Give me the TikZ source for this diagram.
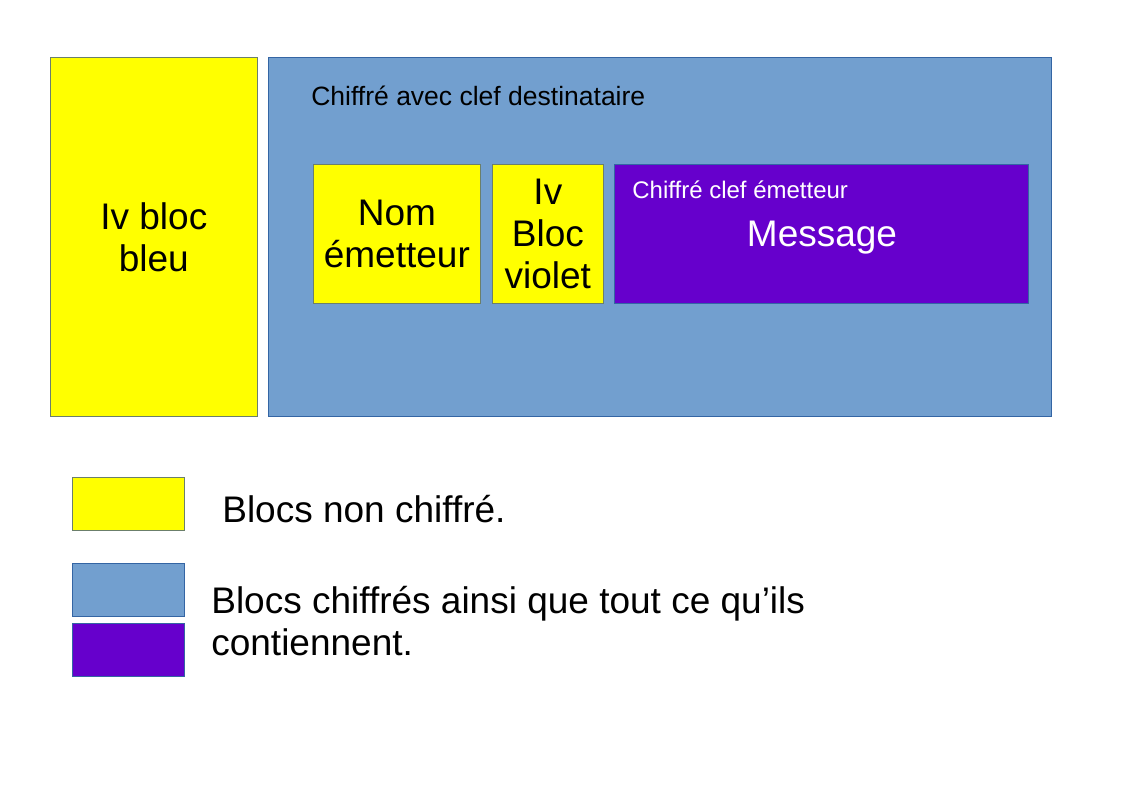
\documentclass[tikz,border=0pt]{standalone}
\usepackage{fontspec}
\setmainfont{Liberation Sans}
\usetikzlibrary{positioning}
\definecolor{cjaune}{HTML}{FFFF00}
\definecolor{cbleu}{HTML}{729FCF}
\definecolor{cviolet}{HTML}{6600CC}
\definecolor{ctrait}{HTML}{3465A4}
\definecolor{cgris}{HTML}{6B7F6B}
\tikzset{
  every picture/.style={x=1pt, y=-1pt, line width=0.7pt},
  bloc/.style={draw=ctrait, fill=#1, anchor=north west, inner sep=0pt, align=center},
  bloc/.default=cjaune,
  grand/.style={font=\fontsize{37}{42}\selectfont, inner sep=0pt},
  moyen/.style={font=\fontsize{26.5}{30}\selectfont, inner sep=0pt},
  petit/.style={font=\fontsize{24}{28}\selectfont, inner sep=0pt},
}

\begin{document}
\begin{tikzpicture}[legende/.style={bloc=#1, minimum width=112, minimum height=53},
  texte/.style={grand, align=left, anchor=base west}]
  \useasboundingbox (0,0) rectangle (1123,794);
  \node[bloc, draw=cgris, grand, minimum width=207, minimum height=359] (ivbleu) at (50,57) {Iv bloc\\bleu};
  \node[bloc=cbleu, minimum width=783, minimum height=359] (dest) at (268,57) {};
  \node[moyen, anchor=base west] (titre) at (311,106) {Chiffré avec clef destinataire};
  \node[bloc, draw=cgris, grand, minimum width=167, minimum height=139] (nom) at (313,164) {Nom\\émetteur};
  \node[bloc, draw=cgris, grand, minimum width=111, minimum height=139] (ivviolet) at (492,164) {Iv\\Bloc\\violet};
  \node[bloc=cviolet, minimum width=414, minimum height=139] (emet) at (614,164) {};
  \node[petit, text=white, anchor=base west] (soustitre) at (632,199) {Chiffré clef émetteur};
  \node[grand, text=white, anchor=base] (msg) at (822,247) {Message};
  \node[legende=cjaune, draw=cgris] (lj) at (72,477) {};
  \node[legende=cbleu] (lb) at (72,563) {};
  \node[legende=cviolet] (lv) at (72,623) {};
  \node[texte] (tj) at (222,522) {Blocs non chiffré.};
  \node[texte] (tb) at (211,655) {Blocs chiffrés ainsi que tout ce qu’ils\\contiennent.};
\end{tikzpicture}
\end{document}
